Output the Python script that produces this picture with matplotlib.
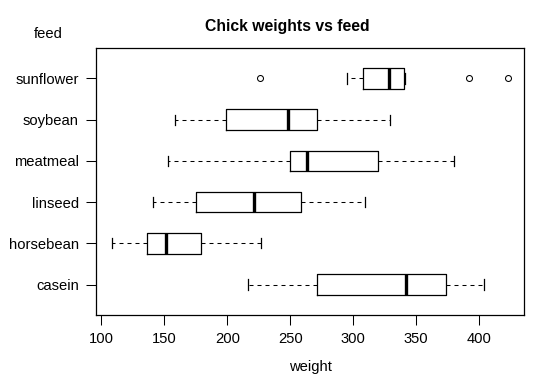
import matplotlib
matplotlib.use("Agg")
import matplotlib.pyplot as plt

feeds = ["casein", "horsebean", "linseed", "meatmeal", "soybean", "sunflower"]
whislo = [216, 108, 141, 153, 158, 295]
q1 = [271.5, 136, 175, 249.5, 199, 307.5]
med = [342, 151.5, 221, 263, 248, 328]
q3 = [373.5, 179, 258.5, 320, 271, 340.5]
whishi = [404, 227, 309, 380, 329, 341]
fliers = [[], [], [], [], [], [226, 392, 423]]
xticks = [100, 150, 200, 250, 300, 350, 400]

plt.rcParams["font.family"] = ["Liberation Sans", "DejaVu Sans"]

fig = plt.figure(figsize=(5.4, 3.85), dpi=100)
ax = fig.add_axes([0.1772, 0.1818, 0.9704 - 0.1772, 0.8753 - 0.1818])

stats = []
for i, f in enumerate(feeds):
    stats.append(dict(label=f, whislo=whislo[i], q1=q1[i], med=med[i],
                      q3=q3[i], whishi=whishi[i], fliers=fliers[i]))

positions = list(range(1, len(feeds) + 1))
ax.bxp(stats, positions=positions, vert=False, widths=0.5,
       showfliers=True,
       boxprops=dict(color="black", linewidth=0.9),
       medianprops=dict(color="black", linewidth=2.4, solid_capstyle="butt"),
       whiskerprops=dict(color="black", linewidth=0.75, linestyle=(0, (3.84, 3.84))),
       capprops=dict(color="black", linewidth=0.9),
       capwidths=0.25,
       flierprops=dict(marker="o", markersize=4.3, markerfacecolor="none",
                       markeredgecolor="black", markeredgewidth=0.75))

ax.set_xlim(95.4, 435.6)
ax.set_ylim(0.26, 6.74)
ax.set_xticks(xticks)
ax.set_xticklabels([str(t) for t in xticks])
ax.set_yticks(positions)
ax.set_yticklabels(feeds)
ax.tick_params(axis="both", labelsize=10.6, length=7, width=0.75, color="black")
ax.tick_params(axis="x", pad=5)
ax.tick_params(axis="y", pad=5)
for s in ax.spines.values():
    s.set_linewidth(0.9)

fig.text(287 / 540, 1 - 27 / 385, "Chick weights vs feed", ha="center", va="center",
         fontsize=11.3, fontweight="bold")
fig.text(48 / 540, 1 - 34 / 385, "feed", ha="center", va="center", fontsize=10.6)
fig.text(310 / 540, 1 - 367 / 385, "weight", ha="center", va="center", fontsize=10.6)

fig.savefig("out.png", dpi=100)
